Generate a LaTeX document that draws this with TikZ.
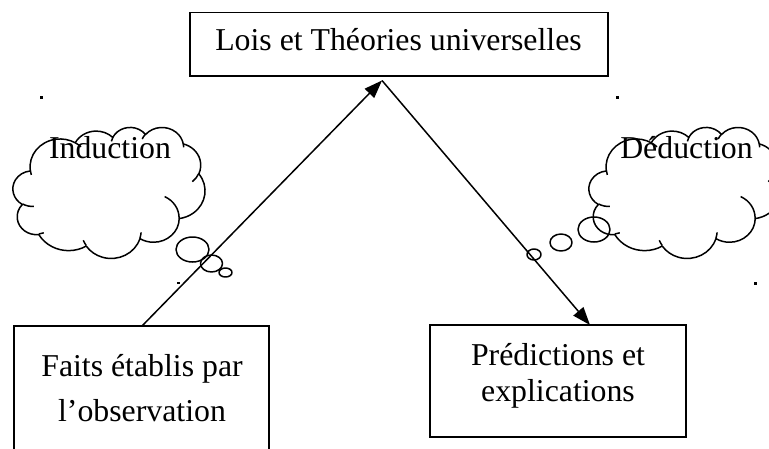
\documentclass[tikz,border=0pt]{standalone}
\usepackage{fontspec}
\setmainfont{Liberation Serif}
\usetikzlibrary{arrows.meta}
\newcommand\mkcldarc[5]{%
  \pgfmathsetmacro\tmpS{atan2(#2*sin(#4),#3*cos(#4))}%
  \pgfmathsetmacro\tmpE{atan2(#2*sin(#4+#5),#3*cos(#4+#5))}%
  \pgfmathsetmacro\tmpD{mod(\tmpE-\tmpS+720,360)}%
  \expandafter\xdef\csname cldarc#1\endcsname{arc[x radius=#2, y radius=#3, start angle=\tmpS, delta angle=\tmpD]}%
}
\mkcldarc{A}{6.753}{9.190}{-190.48748}{123.78053}
\mkcldarc{B}{5.333}{7.267}{-144.10238}{89.94523}
\mkcldarc{C}{4.365}{5.945}{-145.80792}{99.72302}
\mkcldarc{D}{4.857}{6.595}{-130.98607}{117.24173}
\mkcldarc{E}{5.333}{7.273}{-78.70888}{109.02692}
\mkcldarc{F}{6.775}{9.220}{-46.26725}{130.269}
\mkcldarc{G}{5.785}{7.867}{0.62502}{114.03333}
\mkcldarc{H}{6.752}{9.215}{22.4516}{115.17255}
\mkcldarc{I}{7.720}{10.543}{66.24263}{75.71102}
\mkcldarc{J}{4.360}{5.918}{-274.94208}{146.73557}
\mkcldarc{K}{4.345}{5.945}{-246.8285}{152.51885}
\mkcldarc{a}{4.345}{5.945}{86.742}{26.4295}
\mkcldarc{b}{4.360}{5.918}{73.61047}{11.44747}
\mkcldarc{c}{6.752}{9.215}{137.62415}{14.0811}
\mkcldarc{d}{6.752}{9.215}{6.45327}{15.99835}
\mkcldarc{e}{5.785}{7.867}{-70.29235}{70.91737}
\mkcldarc{f}{5.333}{7.273}{30.31803}{27.7515}
\mkcldarc{g}{4.857}{6.595}{-13.74433}{14.8589}
\mkcldarc{h}{4.857}{6.595}{-149.18145}{18.19537}
\mkcldarc{i}{4.365}{5.945}{-163.49427}{17.68635}
\mkcldarc{j}{6.753}{9.190}{-66.70695}{12.31935}
\mkcldarc{k}{6.753}{9.190}{157.65435}{11.85817}
\def\cldoutline{(3.900,14.370) \cldarcA \cldarcB \cldarcC \cldarcD \cldarcE \cldarcF \cldarcG \cldarcH \cldarcI \cldarcJ \cldarcK -- cycle}
\def\cldinner{(4.693,26.177) \cldarca (6.928,34.899) \cldarcb (16.478,39.090) \cldarcc (28.827,34.751) \cldarcd (34.129,22.954) \cldarce (41.798,15.354) \cldarcf (38.324,5.426) \cldarcg (29.078,3.952) \cldarch (22.141,4.720) \cldarci (14.000,5.192) \cldarcj (4.127,15.789) \cldarck}
\begin{document}
\begin{tikzpicture}[x=1pt,y=-1pt,
  line/.style={line width=1.5pt, line join=round},
  boxshape/.style={draw, line width=1.5pt, inner sep=0pt},
  lbl/.style={font=\fontsize{31.8}{36}\selectfont, inner sep=0pt, anchor=base},
  conn/.style={line width=1.5pt, -{Triangle[length=18pt,width=13pt]}},
  anchormark/.style={fill=black}]
\clip (0,0) rectangle (769,448);
% boxes
\node[boxshape, minimum width=418pt, minimum height=63.5pt] (lois) at (399,44.3) {};
\node[lbl] (loistxt) at (398.5,50) {Lois et Théories universelles};
\node[boxshape, minimum width=255pt, minimum height=150pt] (faits) at (141.5,401) {};
\node[lbl] (faits1) at (142,376) {Faits établis par};
\node[lbl] (faits2) at (142,421.5) {l’observation};
\node[boxshape, minimum width=256pt, minimum height=112pt] (pred) at (558,381) {};
\node[lbl] (pred1) at (558,365) {Prédictions et};
\node[lbl] (pred2) at (558,401.5) {explications};
% connectors
\coordinate (apex) at (382,80.5);
\coordinate (fstart) at (142,326);
\coordinate (pend) at (590,325);
\draw[conn] (fstart) -- (apex);
\draw[conn] (apex) -- (pend);
% left cloud
\begin{scope}[shift={(13,127)}, xscale=4.444, yscale=3.032]
  \draw[line] \cldoutline;
  \draw[line] \cldinner;
\end{scope}
\draw[line] (192.5,249.5) ellipse [x radius=16.5, y radius=12.5];
\draw[line] (211.5,263.5) ellipse [x radius=11, y radius=8.5];
\draw[line] (225.5,272.5) ellipse [x radius=6.5, y radius=4.5];
\node[lbl] (ind) at (110,158.3) {Induction};
% right cloud
\begin{scope}[shift={(589,127)}, xscale=4.444, yscale=3.032]
  \draw[line] \cldoutline;
  \draw[line] \cldinner;
\end{scope}
\draw[line] (594,229.5) ellipse [x radius=16, y radius=12.5];
\draw[line] (561,242.5) ellipse [x radius=11, y radius=8.5];
\draw[line] (534,254.5) ellipse [x radius=7, y radius=5.5];
\node[lbl] (ded) at (686.5,158.3) {Déduction};
% small anchor marks
\fill[anchormark] (40,96) rectangle (42.5,98.5);
\fill[anchormark] (176.5,282) rectangle (180,283.5);
\fill[anchormark] (616,96) rectangle (618.5,98.5);
\fill[anchormark] (754,282) rectangle (756.5,284.5);
\end{tikzpicture}
\end{document}
